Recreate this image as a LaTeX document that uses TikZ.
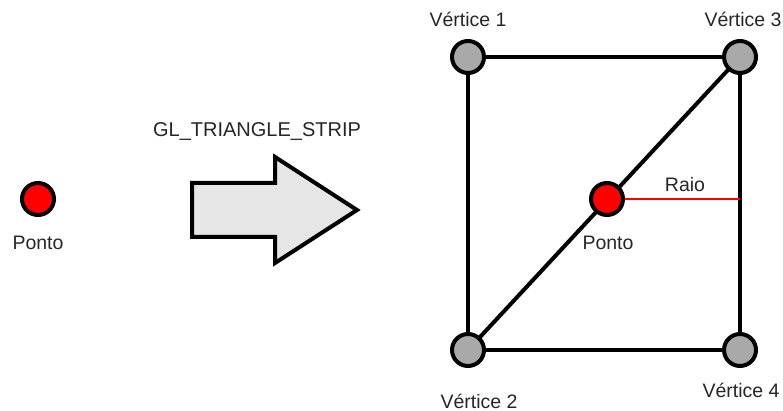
\documentclass[tikz,border=0pt]{standalone}
\usepackage{fontspec}
\setmainfont{Liberation Sans}
\usetikzlibrary{backgrounds}
\definecolor{vgray}{HTML}{A9A9A9}
\definecolor{agray}{HTML}{E6E6E6}
\definecolor{txt}{HTML}{262626}
\tikzset{
  vertex/.style={circle, draw=black, line width=4pt, fill=vgray, minimum size=32pt, inner sep=0pt},
  dot/.style={circle, draw=black, line width=4pt, fill=red, minimum size=32pt, inner sep=0pt},
  edge/.style={line width=4pt, black},
  lbl/.style={font=\fontsize{19.5pt}{22pt}\selectfont, text=txt, inner sep=0pt, anchor=base},
  bigarrow/.style={draw=black, line width=4pt, fill=agray, line join=miter}
}
\begin{document}
\begin{tikzpicture}[x=1pt, y=-1pt]
  \useasboundingbox (0,0) rectangle (783,411);

  % isolated point on the left
  \node[dot] (p0) at (38,199) {};
  \node[lbl] (p0lbl) at (38,250) {Ponto};

  % block arrow
  \node[lbl, font=\fontsize{20pt}{23pt}\selectfont] (title) at (257,137) {GL\_TRIANGLE\_STRIP};
  \draw[bigarrow] (192,183) -- (275,183) -- (275,157) -- (357,210)
    -- (275,263) -- (275,237) -- (192,237) -- cycle;

  % quad made of two triangles
  \node[vertex] (v1) at (468,57) {};
  \node[vertex] (v3) at (740,57) {};
  \node[vertex] (v2) at (468,350) {};
  \node[vertex] (v4) at (740,350) {};
  \node[dot] (p) at (607,199) {};
  \coordinate (r) at (740,199);

  \begin{pgfonlayer}{background}
    \draw[edge] (v1.center) -- (v3.center) -- (v4.center) -- (v2.center) -- cycle;
    \draw[edge] (v2.center) -- (v3.center);
    \draw[red, line width=1.6pt] (p.center) -- (r);
  \end{pgfonlayer}

  \node[lbl] (l1) at (468,27) {Vértice 1};
  \node[lbl] (l3) at (743,27) {Vértice 3};
  \node[lbl] (l2) at (479,408) {Vértice 2};
  \node[lbl] (l4) at (741,397) {Vértice 4};
  \node[lbl] (raio) at (685,192) {Raio};
  \node[lbl] (plbl) at (608,250) {Ponto};
\end{tikzpicture}
\end{document}
